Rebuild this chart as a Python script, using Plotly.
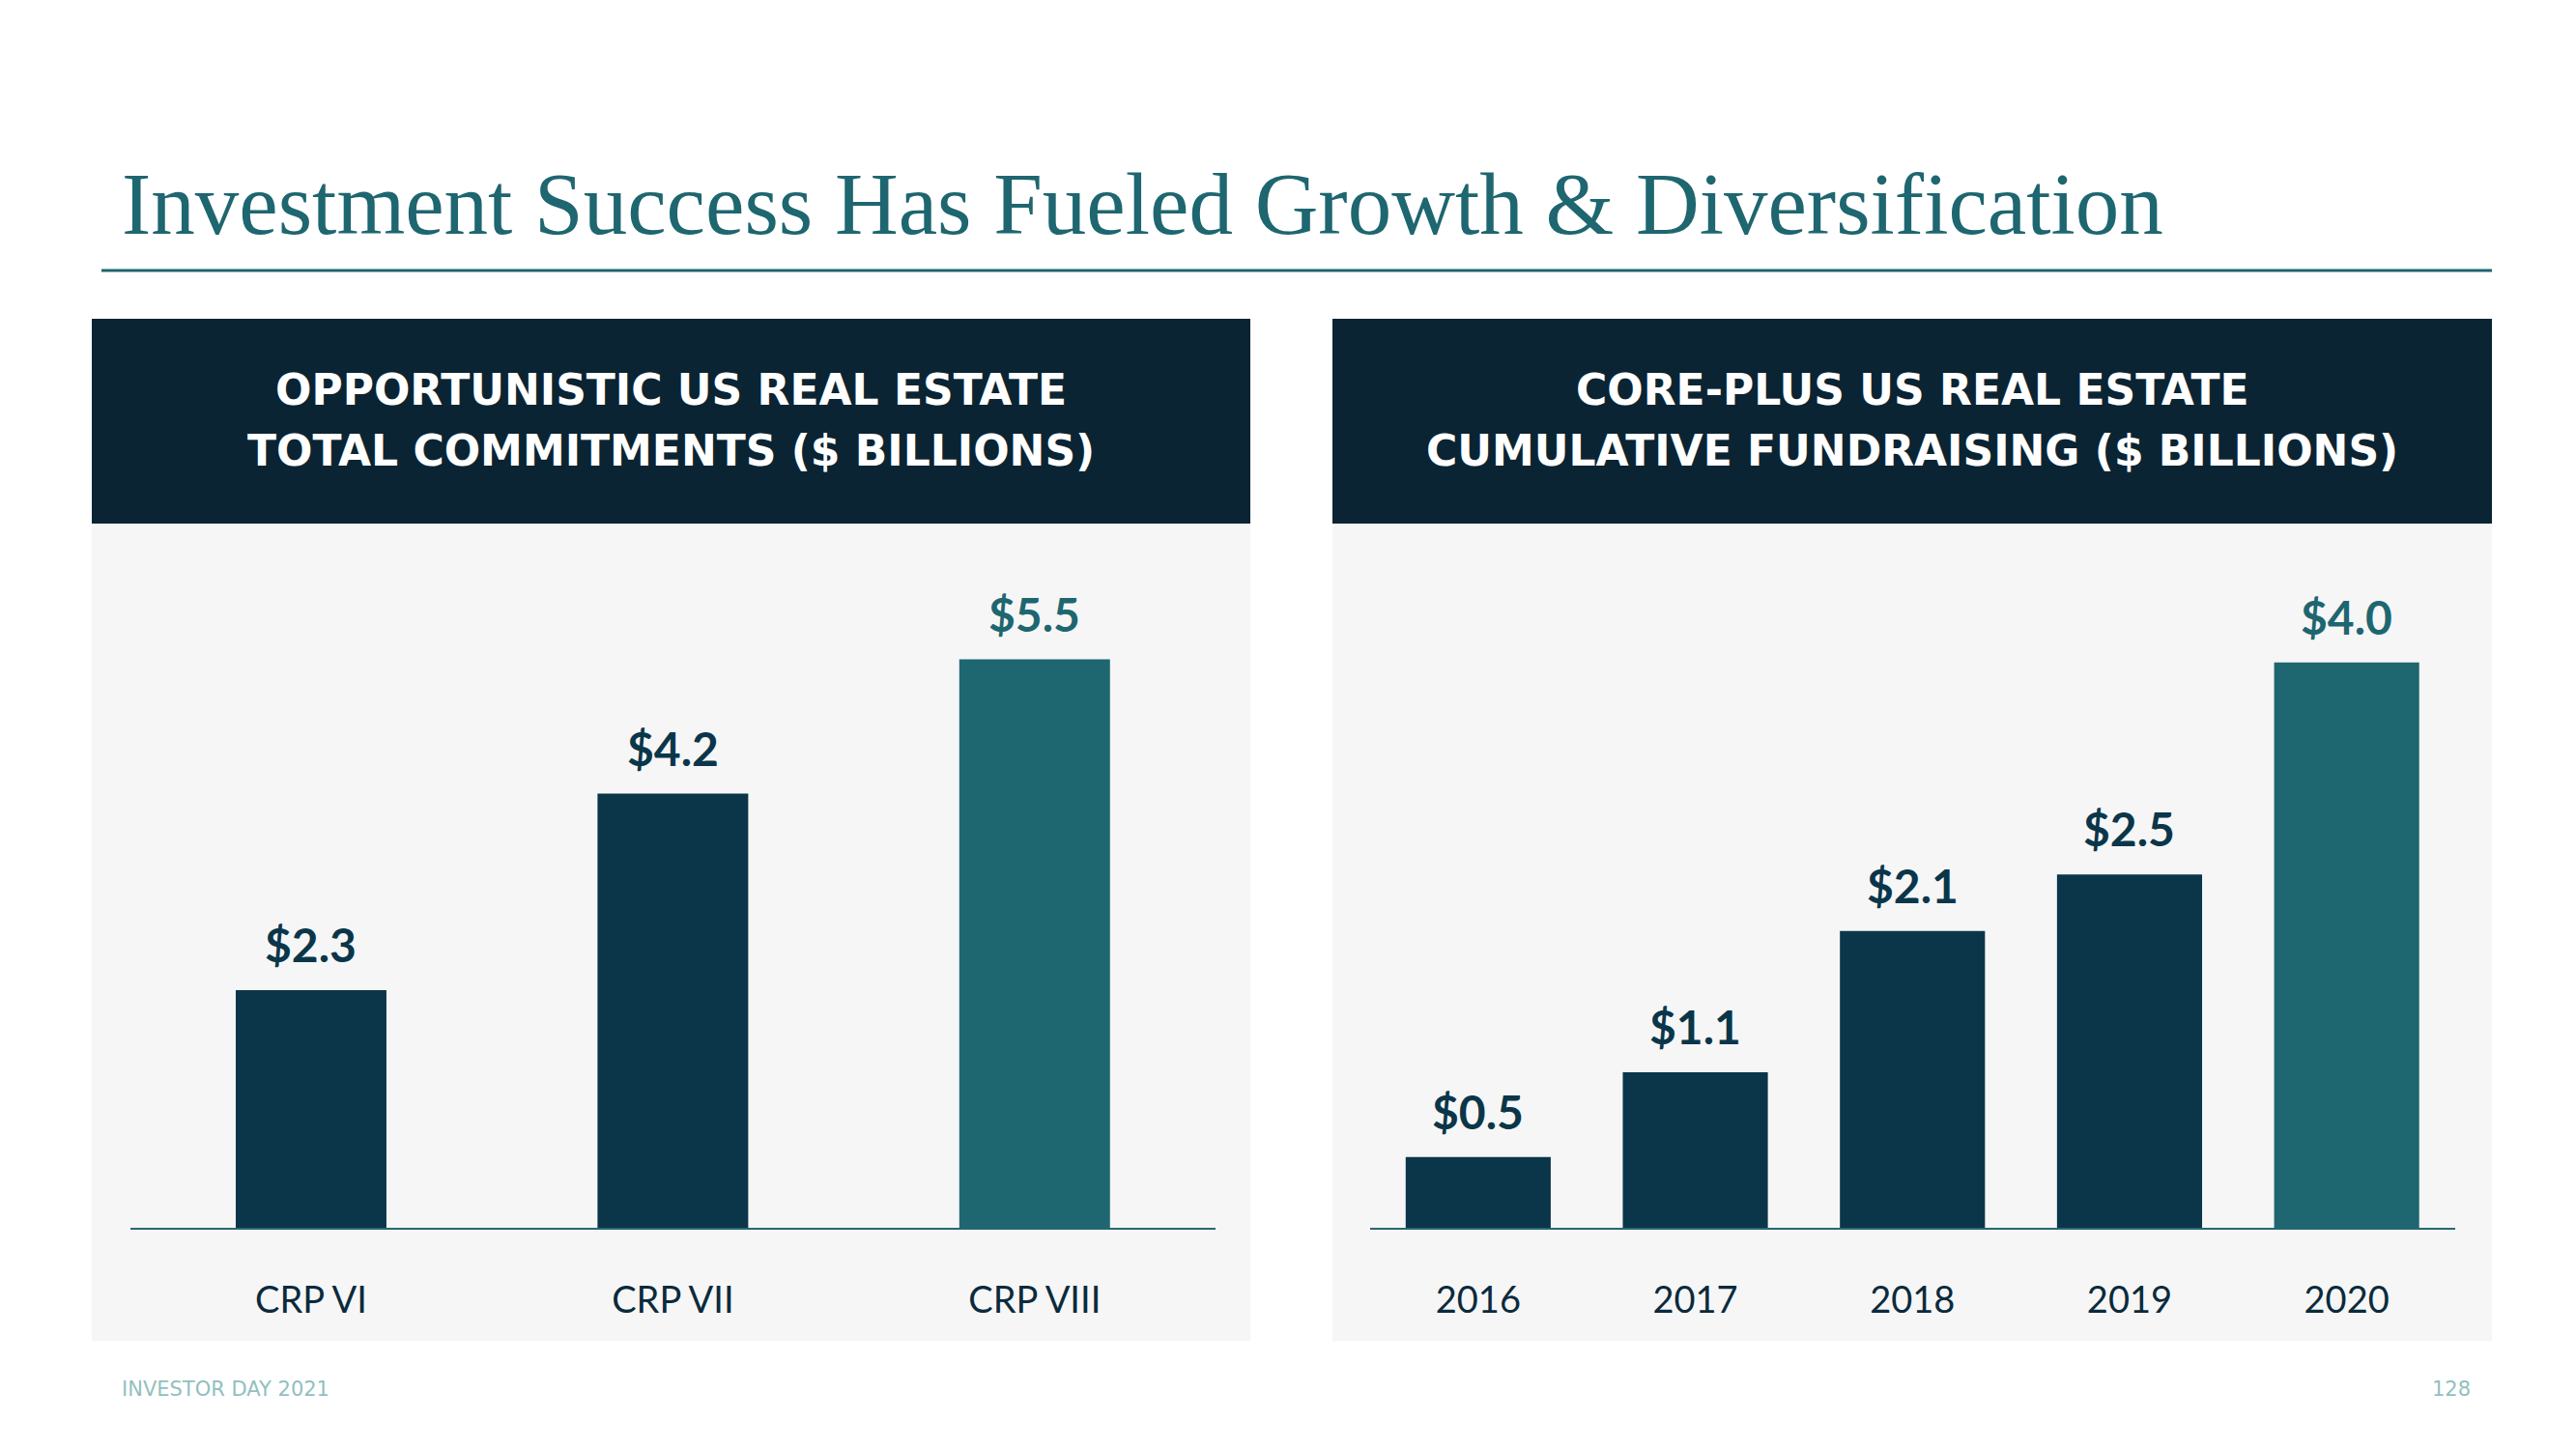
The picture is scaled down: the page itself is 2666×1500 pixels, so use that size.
import plotly.graph_objects as go

# ---- data ----
left_categories = ["CRP VI", "CRP VII", "CRP VIII"]
left_values = [2.3, 4.2, 5.5]
right_categories = ["2016", "2017", "2018", "2019", "2020"]
right_values = [0.5, 1.1, 2.1, 2.5, 4.0]

title_text = "Investment Success Has Fueled Growth &amp; Diversification"
left_header = ["OPPORTUNISTIC US REAL ESTATE", "TOTAL COMMITMENTS ($ BILLIONS)"]
right_header = ["CORE-PLUS US REAL ESTATE", "CUMULATIVE FUNDRAISING ($ BILLIONS)"]
footer_left = "INVESTOR DAY 2021"
footer_right = "128"

# ---- style ----
OFF = 8                      # browser body margin
W, H = 2666 - 2 * OFF, 1500 - 2 * OFF
NAVY = "#0b364a"
TEAL = "#1e6670"
HEADER_BG = "#0a2433"
PANEL_BG = "#f6f6f6"
LABEL_NAVY = "#0b2a3c"
FOOT = "#92bfbf"


def px_x(x):
    return (x - OFF) / W


def px_y(y):
    return 1 - (y - OFF) / H


left_colors = [NAVY] * (len(left_values) - 1) + [TEAL]
right_colors = [NAVY] * (len(right_values) - 1) + [TEAL]

fig = go.Figure()
fig.add_trace(go.Bar(x=left_categories, y=left_values,
                     width=[156 / 374.5] * len(left_values),
                     marker=dict(color=left_colors, line=dict(width=0)),
                     xaxis="x", yaxis="y", hoverinfo="skip", showlegend=False))
fig.add_trace(go.Bar(x=right_categories, y=right_values,
                     width=[150 / 224.5] * len(right_values),
                     marker=dict(color=right_colors, line=dict(width=0)),
                     xaxis="x2", yaxis="y2", hoverinfo="skip", showlegend=False))

base_y, top_y = 1271, 543
ydom = [px_y(base_y), px_y(top_y)]

xaxis_common = dict(type="category", showgrid=False, zeroline=False, showline=True,
                    linecolor="#2a6672", linewidth=2, ticks="outside", ticklen=40,
                    tickcolor="rgba(0,0,0,0)", fixedrange=True, automargin=False,
                    tickfont=dict(family="Lato", size=38, color=LABEL_NAVY))
yaxis_common = dict(showgrid=False, zeroline=False, showline=False, showticklabels=False,
                    ticks="", fixedrange=True, automargin=False)

fig.update_layout(
    width=W, height=H, margin=dict(l=0, r=0, t=0, b=0, autoexpand=False),
    paper_bgcolor="white", plot_bgcolor="rgba(0,0,0,0)",
    xaxis=dict(domain=[px_x(134.75), px_x(1258)], range=[-0.5, len(left_categories) - 0.5],
               **xaxis_common),
    xaxis2=dict(domain=[px_x(1417.5), px_x(2541)], anchor="y2",
                range=[-0.5, len(right_categories) - 0.5], **xaxis_common),
    yaxis=dict(domain=ydom, range=[0, (base_y - top_y) / 107.0], anchor="x", **yaxis_common),
    yaxis2=dict(domain=ydom, range=[0, (base_y - top_y) / 146.3], anchor="x2", **yaxis_common),
    showlegend=False,
)

shapes = []
# panel bodies and headers
for (x0, x1) in [(95, 1294), (1379, 2579)]:
    shapes.append(dict(type="rect", xref="paper", yref="paper", x0=px_x(x0), x1=px_x(x1),
                       y0=px_y(1388), y1=px_y(542), fillcolor=PANEL_BG, line=dict(width=0), layer="below"))
    shapes.append(dict(type="rect", xref="paper", yref="paper", x0=px_x(x0), x1=px_x(x1),
                       y0=px_y(542), y1=px_y(330), fillcolor=HEADER_BG, line=dict(width=0), layer="below"))
# title underline
shapes.append(dict(type="line", xref="paper", yref="paper", x0=px_x(105), x1=px_x(2579),
                   y0=px_y(280), y1=px_y(280), line=dict(color=TEAL, width=3), layer="below"))
fig.update_layout(shapes=shapes)

ann = []
# title
ann.append(dict(text=title_text, xref="paper", yref="paper", x=px_x(124), y=px_y(247),
                xanchor="left", yanchor="bottom", showarrow=False, yshift=-17,
                font=dict(family="Liberation Serif", size=91, color=TEAL)))
# headers
for cx, lines in [(694.5, left_header), (1979, right_header)]:
    for ly, line in zip([403, 466], lines):
        ann.append(dict(text="<b>" + line + "</b>", xref="paper", yref="paper", x=px_x(cx), y=px_y(ly),
                        xanchor="center", yanchor="middle", showarrow=False,
                        font=dict(family="DejaVu Sans", size=44, color="white")))
# value labels (x given as category index)
for cats, vals, xr, yr in [(left_categories, left_values, "x", "y"),
                           (right_categories, right_values, "x2", "y2")]:
    for i, v in enumerate(vals):
        col = TEAL if i == len(vals) - 1 else NAVY
        ann.append(dict(text="<b>$%.1f</b>" % v, x=i, y=v, xref=xr, yref=yr,
                        xanchor="center", yanchor="bottom", yshift=17, showarrow=False,
                        font=dict(family="Lato", size=48, color=col)))
# footer
ann.append(dict(text=footer_left, xref="paper", yref="paper", x=px_x(124), y=px_y(1438),
                xanchor="left", yanchor="middle", showarrow=False,
                font=dict(family="DejaVu Sans", size=21, color=FOOT)))
ann.append(dict(text=footer_right, xref="paper", yref="paper", x=px_x(2559), y=px_y(1438),
                xanchor="right", yanchor="middle", showarrow=False,
                font=dict(family="DejaVu Sans", size=21, color=FOOT)))
fig.update_layout(annotations=ann)

fig.write_html("out.html")
